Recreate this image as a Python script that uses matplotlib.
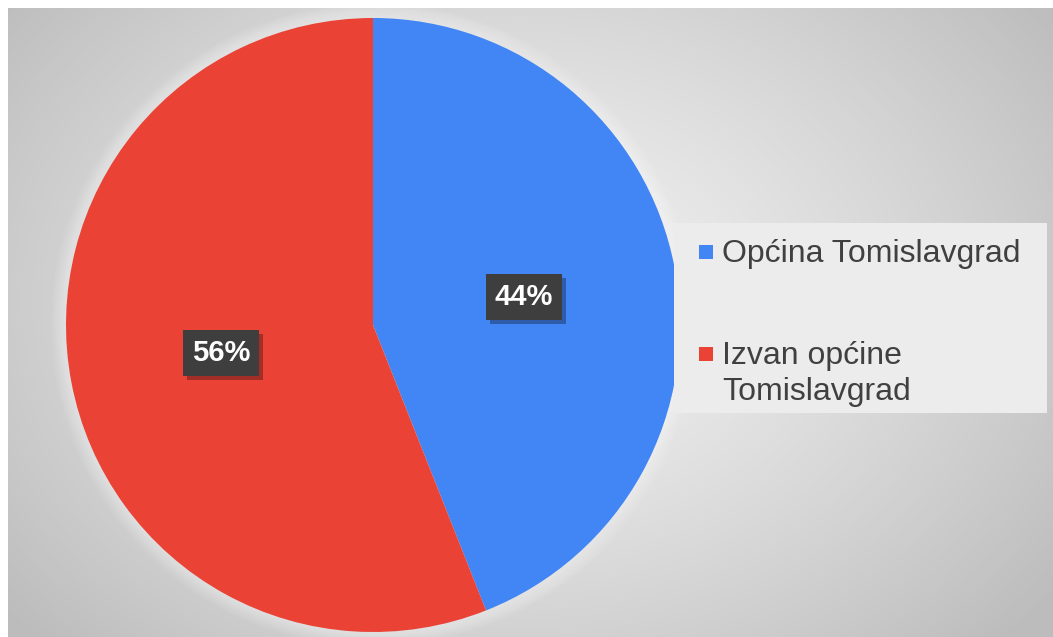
import numpy as np
import matplotlib
matplotlib.use('Agg')
import matplotlib.pyplot as plt
from matplotlib.patches import Rectangle, Circle
import matplotlib.patheffects as pe

# podaci
kategorije = ['Općina Tomislavgrad', 'Izvan općine\nTomislavgrad']
postoci = [44, 56]
boje = ['#4285f4', '#ea4335']

W, H = 1053, 637
plt.rcParams['font.family'] = ['Liberation Sans', 'DejaVu Sans']

fig = plt.figure(figsize=(W / 100, H / 100), dpi=100)
fig.patch.set_facecolor('white')

# pozadina s radijalnim prijelazom
ax_bg = fig.add_axes([8 / W, 0, (W - 8) / W, (H - 8) / H])
xx, yy = np.meshgrid(np.arange(8, W), np.arange(8, H))
d = np.sqrt(((xx - 520) / 560.0) ** 2 + ((yy - 300) / 420.0) ** 2)
siva = np.clip(0.95 - 0.17 * d ** 1.3, 0.74, 0.95)
ax_bg.imshow(np.dstack([siva, siva, siva]), aspect='auto', interpolation='bilinear')
ax_bg.set_axis_off()

# pita
cx, cy, r = 373, 325, 307
ax = fig.add_axes([(cx - r) / W, (H - cy - r) / H, 2 * r / W, 2 * r / H])
for k in range(8):
    ax.add_patch(Circle((0, 0), 1.0 + 0.006 * (k + 1), fc='white', ec='none',
                        alpha=0.06, clip_on=False))
ax.pie(postoci, colors=boje, startangle=90, counterclock=False,
       radius=1.0, wedgeprops={'linewidth': 0})
ax.set_xlim(-1, 1)
ax.set_ylim(-1, 1)
ax.set_axis_off()

# oznake s postocima
pozicije = [(524, 297), (221, 353)]
for p, (px, py) in zip(postoci, pozicije):
    x = (px - cx) / r
    y = -(py - cy) / r
    t = ax.text(x, y, f'{p}%', ha='center', va='center', fontsize=21,
                fontweight='bold', color='white',
                bbox=dict(boxstyle='square,pad=0.3', fc='#3e3e3e', ec='none'))
    t.get_bbox_patch().set_path_effects([
        pe.SimplePatchShadow(offset=(3, -3), shadow_rgbFace='black', alpha=0.3),
        pe.Normal()])

# legenda
fig.patches.append(Rectangle((674 / W, (H - 413) / H), (1047 - 674) / W, (413 - 223) / H,
                             transform=fig.transFigure, fc='#ececec', ec='none', zorder=1))
leg_y = [252, 354]
for kat, boja, ly in zip(kategorije, boje, leg_y):
    fig.patches.append(Rectangle((699 / W, (H - ly - 7) / H), 14 / W, 14 / H,
                                 transform=fig.transFigure, fc=boja, ec='none', zorder=2))
    fig.text(722 / W, (H - ly + 13) / H, kat, ha='left', va='top', fontsize=23,
             color='#404040', linespacing=1.27, zorder=3)

fig.savefig('out.png', dpi=100)
